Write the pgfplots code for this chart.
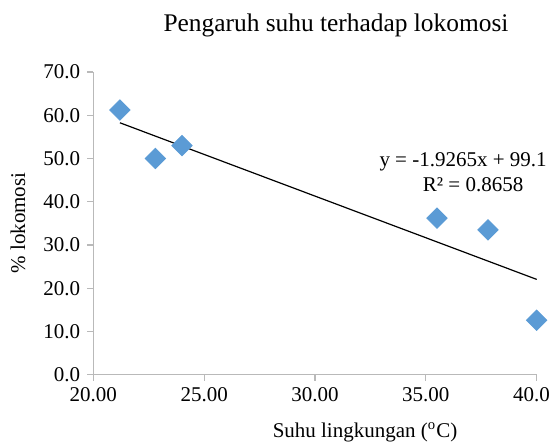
\documentclass[border=0pt]{standalone}
\usepackage{fontspec}
\setmainfont{Liberation Serif}
\usepackage{pgfplots}
\pgfplotsset{compat=1.18}
\usetikzlibrary{calc}
\definecolor{mblue}{RGB}{91,155,213}
\definecolor{axgray}{RGB}{185,185,185}
\begin{document}
\begin{tikzpicture}
\begin{axis}[name=ax, at={(0,0)}, anchor=south west,
  scale only axis, width=221.7pt, height=151.35pt,
  xmin=20, xmax=40, ymin=0, ymax=70,
  xtick={20,25,30,35,40}, ytick={0,10,20,30,40,50,60,70},
  xticklabels={20.00,25.00,30.00,35.00,40.00},
  yticklabels={0.0,10.0,20.0,30.0,40.0,50.0,60.0,70.0},
  axis x line*=bottom, axis y line*=left,
  axis line style={-, axgray, line width=0.6pt},
  tick style={axgray, line width=0.6pt}, tick align=outside, major tick length=3pt,
  tick label style={font=\rmfamily\fontsize{10.5}{12}\selectfont, black},
  clip=false,
]
\addplot[only marks, mark=square*, mark size=3.6pt, mark options={rotate=45, fill=mblue, draw=mblue}] table {
x y
21.2 61.2
22.8 50.0
24.0 53.0
35.5 36.2
37.8 33.5
40.0 12.6
};
\addplot[black, line width=0.6pt] coordinates {(21.2,58.26) (40,22.04)};
\node[font=\fontsize{10.5}{12}\selectfont] at (axis cs:36.68,49.26) {y = -1.9265x + 99.1};
\node[font=\fontsize{10.5}{12}\selectfont] at (axis cs:37.13,43.87) {R² = 0.8658};
\end{axis}
\node[font=\fontsize{12.7}{15}\selectfont] at ($(ax.south west)+(121.35pt,174.85pt)$) {Pengaruh suhu terhadap lokomosi};
\node[font=\fontsize{10.5}{12}\selectfont] at ($(ax.south west)+(135.85pt,-28.65pt)$) {Suhu lingkungan (\textsuperscript{o}C)};
\node[font=\fontsize{10.5}{12}\selectfont, rotate=90] at ($(ax.south west)+(-37.65pt,75.85pt)$) {\% lokomosi};
\pgfresetboundingbox
\path[use as bounding box] ($(ax.south west)+(-46.65pt,-34.15pt)$) rectangle ($(ax.south west)+(227.85pt,187.35pt)$);
\end{tikzpicture}
\end{document}
